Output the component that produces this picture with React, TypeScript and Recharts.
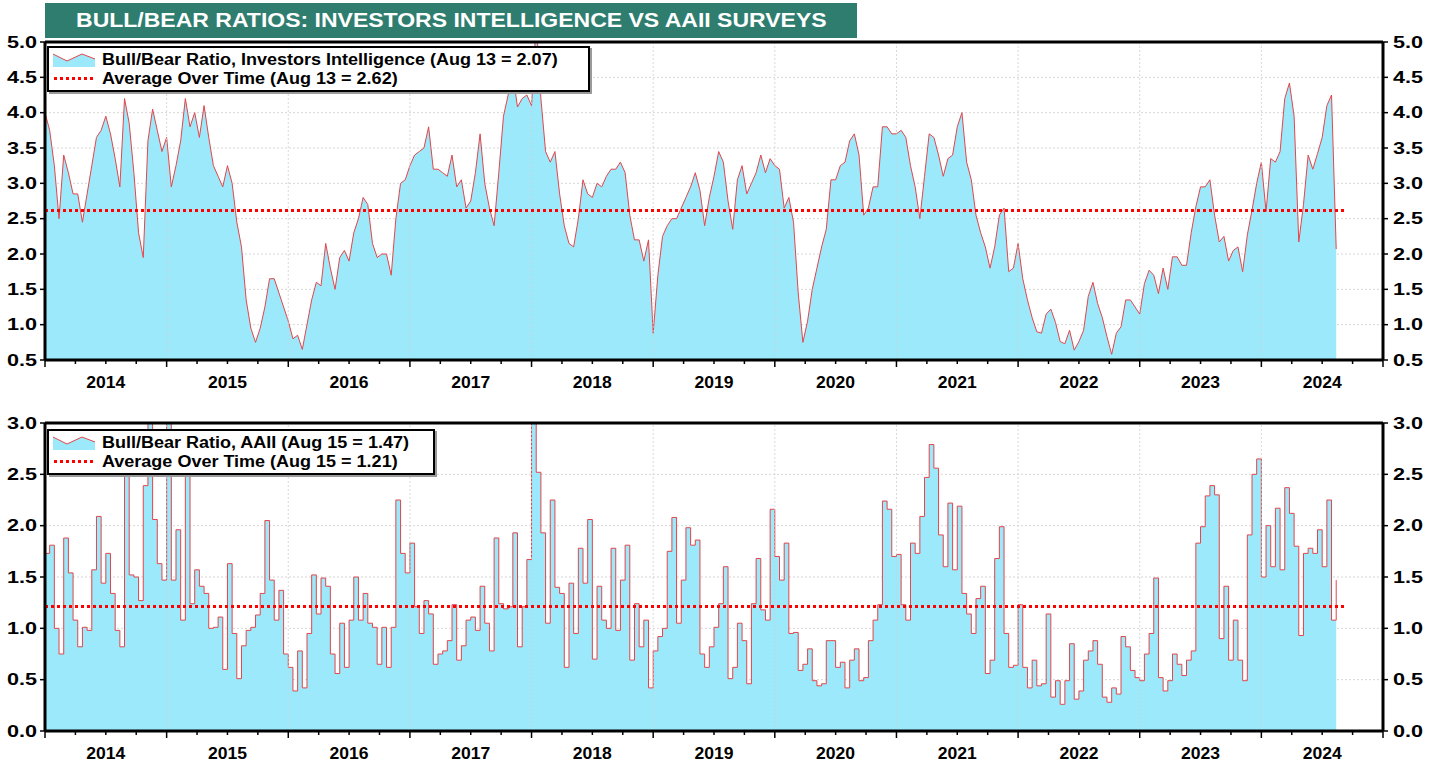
import React from 'react';
import { AreaChart, Area, XAxis, YAxis, CartesianGrid, ReferenceLine, Legend } from 'recharts';

// Investors Intelligence bull/bear ratio, two readings a month
const ii2014 = [4.0, 3.75, 3.25, 2.5, 3.4, 3.15, 2.85, 2.85, 2.45, 2.85, 3.25, 3.65, 3.75, 3.95, 3.7, 3.35, 2.95, 4.2, 3.85, 3.15, 2.3, 1.95, 3.6, 4.05, 3.75, 3.45];
const ii2015 = [3.65, 2.95, 3.25, 3.6, 4.2, 3.8, 4.0, 3.65, 4.1, 3.65, 3.25, 3.1, 2.95, 3.25, 3.0, 2.45, 2.1, 1.35, 0.95, 0.75, 0.95, 1.25, 1.65, 1.65, 1.45, 1.25];
const ii2016 = [1.05, 0.8, 0.85, 0.65, 1.0, 1.35, 1.6, 1.55, 2.15, 1.8, 1.5, 1.95, 2.05, 1.9, 2.3, 2.5, 2.8, 2.7, 2.15, 1.95, 2.0, 2.0, 1.7, 2.5, 3.0, 3.05];
const ii2017 = [3.25, 3.4, 3.45, 3.5, 3.8, 3.2, 3.2, 3.15, 3.1, 3.4, 2.95, 3.05, 2.65, 2.75, 3.15, 3.7, 3.0, 2.65, 2.4, 3.15, 3.95, 4.25, 4.55, 4.08, 4.2, 4.25];
const ii2018 = [4.1, 5.3, 4.2, 3.45, 3.3, 3.45, 2.85, 2.4, 2.15, 2.1, 2.5, 3.05, 2.85, 2.8, 3.0, 2.95, 3.1, 3.2, 3.2, 3.3, 3.15, 2.55, 2.2, 2.2, 1.9, 2.2];
const ii2019 = [0.88, 1.7, 2.25, 2.4, 2.5, 2.5, 2.65, 2.8, 2.95, 3.15, 2.9, 2.4, 2.8, 3.1, 3.45, 3.3, 2.75, 2.35, 3.05, 3.25, 2.85, 3.0, 3.15, 3.4, 3.15, 3.35];
const ii2020 = [3.25, 3.2, 2.65, 2.8, 2.45, 1.45, 0.75, 1.05, 1.5, 1.8, 2.1, 2.35, 3.05, 3.05, 3.25, 3.3, 3.6, 3.7, 3.4, 2.55, 2.65, 2.95, 2.95, 3.8, 3.8, 3.7];
const ii2021 = [3.7, 3.75, 3.65, 3.25, 2.95, 2.5, 3.1, 3.7, 3.65, 3.4, 3.1, 3.35, 3.4, 3.8, 4.0, 3.3, 3.05, 2.55, 2.3, 2.1, 1.8, 2.1, 2.55, 2.65, 1.75, 1.8];
const ii2022 = [2.15, 1.65, 1.35, 1.1, 0.9, 0.88, 1.15, 1.22, 1.03, 0.76, 0.73, 0.92, 0.64, 0.76, 0.92, 1.4, 1.6, 1.3, 1.1, 0.83, 0.58, 0.88, 0.97, 1.35, 1.35, 1.25];
const ii2023 = [1.15, 1.58, 1.77, 1.7, 1.44, 1.8, 1.5, 1.96, 1.96, 1.84, 1.84, 2.3, 2.67, 2.95, 2.95, 3.05, 2.55, 2.17, 2.25, 1.9, 2.05, 2.1, 1.75, 2.27, 2.62, 3.0];
const ii2024 = [3.3, 2.6, 3.35, 3.3, 3.45, 4.2, 4.42, 3.95, 2.17, 2.7, 3.4, 3.2, 3.42, 3.65, 4.1, 4.25, 2.07];

// AAII bull/bear ratio, two readings a month
const aa2014 = [1.73, 1.81, 1.0, 0.75, 1.88, 1.54, 1.08, 0.82, 1.01, 0.98, 1.57, 2.09, 1.44, 1.73, 1.34, 0.98, 0.82, 2.48, 1.52, 1.5, 1.27, 2.39, 3.1, 2.06, 1.63, 1.47];
const aa2015 = [3.1, 1.47, 1.96, 1.08, 2.9, 1.24, 1.57, 1.41, 1.34, 1.0, 1.01, 1.11, 0.6, 1.63, 0.95, 0.51, 0.83, 0.98, 1.01, 1.13, 1.34, 2.05, 1.47, 1.08, 1.37, 0.75];
const aa2016 = [0.62, 0.39, 0.78, 0.42, 0.95, 1.52, 1.14, 1.49, 1.41, 0.75, 0.56, 1.05, 0.62, 1.08, 1.5, 1.08, 1.34, 1.05, 1.01, 0.65, 1.01, 0.62, 1.01, 2.25, 1.73, 1.54];
const aa2017 = [1.83, 1.21, 0.95, 1.27, 1.14, 0.65, 0.75, 0.78, 0.88, 1.23, 0.69, 0.83, 1.08, 1.11, 0.98, 1.41, 1.05, 0.78, 1.88, 1.24, 1.19, 1.21, 1.93, 0.82, 1.21, 1.67];
const aa2018 = [3.1, 2.52, 1.93, 1.05, 2.25, 1.4, 1.34, 0.62, 1.44, 0.95, 1.78, 1.44, 2.06, 0.7, 1.41, 1.08, 1.0, 1.78, 0.98, 1.47, 1.81, 0.69, 1.24, 0.82, 1.08, 0.42];
const aa2019 = [0.78, 0.92, 1.0, 1.75, 2.08, 1.05, 1.47, 1.98, 1.81, 1.86, 0.75, 0.62, 0.82, 1.01, 1.24, 1.6, 0.51, 0.62, 1.05, 0.88, 0.46, 1.24, 1.68, 1.18, 1.08, 2.16];
const aa2020 = [1.7, 1.47, 1.83, 0.95, 0.96, 0.59, 0.65, 0.8, 0.49, 0.44, 0.46, 0.88, 0.88, 0.62, 0.67, 0.42, 0.69, 0.8, 0.49, 0.52, 0.88, 1.08, 1.23, 2.24, 2.16, 1.7];
const aa2021 = [1.72, 1.23, 1.08, 1.83, 1.73, 2.09, 2.47, 2.79, 2.56, 1.91, 1.6, 2.22, 1.57, 2.19, 1.34, 1.14, 0.95, 1.29, 1.41, 0.56, 0.69, 1.68, 1.99, 0.95, 0.62, 0.64];
const aa2022 = [1.23, 0.62, 0.42, 0.69, 0.44, 0.46, 1.14, 0.33, 0.49, 0.26, 0.49, 0.85, 0.31, 0.39, 0.69, 0.78, 0.88, 0.65, 0.33, 0.28, 0.42, 0.36, 0.92, 0.82, 0.59, 0.52];
const aa2023 = [0.49, 0.75, 0.95, 1.49, 0.52, 0.39, 0.49, 0.75, 0.65, 0.54, 0.69, 0.78, 1.83, 1.99, 2.29, 2.39, 2.3, 0.9, 1.41, 0.69, 1.08, 0.69, 0.49, 1.91, 2.5, 2.65];
const aa2024 = [1.5, 2.0, 1.6, 2.17, 1.57, 2.37, 2.12, 1.8, 0.93, 1.73, 1.78, 1.73, 1.96, 1.6, 2.25, 1.08, 1.47];

const avgII = 2.62;
const avgAAII = 1.21;
const avgEnd = 2024.7;

const yearLabels = ['2014', '2015', '2016', '2017', '2018', '2019', '2020', '2021', '2022', '2023', '2024'];
const iiTicks = [0.5, 1.0, 1.5, 2.0, 2.5, 3.0, 3.5, 4.0, 4.5, 5.0];
const aaTicks = [0.0, 0.5, 1.0, 1.5, 2.0, 2.5, 3.0];

const FONT = 'Arial, "Liberation Sans", Helvetica, sans-serif';
const FILL = '#9be9fb';
const LINE = '#e2464b';
const PER_YEAR = 26;
const START = 2014;
const END = 2025;

const toRows = (years: number[][]) =>
  years.flatMap((vals, k) => vals.map((v, i) => ({ t: START + k + i / PER_YEAR, v })));

const iiRows = toRows([ii2014, ii2015, ii2016, ii2017, ii2018, ii2019, ii2020, ii2021, ii2022, ii2023, ii2024]);
const aaRows = toRows([aa2014, aa2015, aa2016, aa2017, aa2018, aa2019, aa2020, aa2021, aa2022, aa2023, aa2024]);

const quarterTicks: number[] = [];
for (let q = START * 4; q <= END * 4; q++) quarterTicks.push(q / 4);
const yearLines = yearLabels.slice(1).map((y) => Number(y));

// the source picture has wide, stretched lettering
const YearTick = (props: any) => {
  const { x, y, payload } = props;
  const v: number = payload.value;
  const frac = v - Math.floor(v);
  const major = frac < 0.001;
  const idx = Math.floor(v) - START;
  return (
    <g>
      <line x1={x} x2={x} y1={y} y2={y + (major ? 7 : 4)} stroke="#000" strokeWidth={1.5} />
      {Math.abs(frac - 0.5) < 0.001 && yearLabels[idx] ? (
        <text
          x={x}
          y={y + 28}
          textAnchor="middle"
          textLength={39}
          lengthAdjust="spacingAndGlyphs"
          fontFamily={FONT}
          fontWeight="bold"
          fontSize={16}
          fill="#000"
        >
          {yearLabels[idx]}
        </text>
      ) : null}
    </g>
  );
};

const ValueTick = (props: any) => {
  const { x, y, payload, textAnchor } = props;
  return (
    <text
      x={x}
      y={y}
      dy={5.5}
      textAnchor={textAnchor}
      textLength={30}
      lengthAdjust="spacingAndGlyphs"
      fontFamily={FONT}
      fontWeight="bold"
      fontSize={16}
      fill="#000"
    >
      {Number(payload.value).toFixed(1)}
    </text>
  );
};

const stretch = (s: number): React.CSSProperties => ({
  display: 'inline-block',
  transform: `scaleX(${s})`,
  transformOrigin: 'left center',
});

const LegendBox = ({ series, avg, width }: { series: string; avg: string; width: number }) => (
  <div
    style={{
      boxSizing: 'border-box',
      width,
      background: '#fff',
      border: '2px solid #000',
      boxShadow: '2px 2px 0 #9a9a9a',
      padding: '2px 0 2px 4px',
      fontFamily: FONT,
      fontWeight: 'bold',
      fontSize: 16,
      lineHeight: '19px',
      whiteSpace: 'nowrap',
      color: '#000',
    }}
  >
    <div style={{ display: 'flex', alignItems: 'center', height: 19 }}>
      <svg width={42} height={15}>
        <path d="M0,2 L14,9 L29,2 L42,7 L42,15 L0,15 Z" fill={FILL} />
        <polyline points="0,2 14,9 29,2 42,7" fill="none" stroke={LINE} strokeWidth={1} />
      </svg>
      <span style={{ marginLeft: 7, ...stretch(1.125) }}>{series}</span>
    </div>
    <div style={{ display: 'flex', alignItems: 'center', height: 19 }}>
      <svg width={42} height={15}>
        <line x1={1} x2={42} y1={7.5} y2={7.5} stroke="#ff0000" strokeWidth={3} strokeDasharray="3 3" />
      </svg>
      <span style={{ marginLeft: 7, ...stretch(1.125) }}>{avg}</span>
    </div>
  </div>
);

type PanelProps = {
  rows: { t: number; v: number }[];
  ticks: number[];
  avg: number;
  stepped: boolean;
  height: number;
  marginTop: number;
  marginBottom: number;
  series: string;
  avgLabel: string;
  legendTop: number;
  legendWidth: number;
};

const Panel = (p: PanelProps) => {
  const { rows, ticks, avg, stepped, height, marginTop, marginBottom } = p;
  const lo = ticks[0];
  const hi = ticks[ticks.length - 1];
  return (
    <AreaChart width={1439} height={height} data={rows} margin={{ top: marginTop, right: 6, bottom: marginBottom, left: 5 }}>
      <CartesianGrid yAxisId="left" vertical={false} stroke="#d6d6d6" strokeDasharray="2 2" />
      <XAxis
        dataKey="t"
        type="number"
        domain={[START, END]}
        ticks={quarterTicks}
        interval={0}
        tickLine={false}
        tickSize={0}
        tickMargin={0}
        height={30}
        axisLine={{ stroke: '#000', strokeWidth: 3 }}
        tick={<YearTick />}
      />
      <YAxis
        yAxisId="left"
        domain={[lo, hi]}
        ticks={ticks}
        allowDataOverflow
        width={40}
        tickSize={5}
        tickMargin={3}
        tickLine={{ stroke: '#000', strokeWidth: 1.5 }}
        axisLine={{ stroke: '#000', strokeWidth: 3 }}
        tick={<ValueTick />}
      />
      <YAxis
        yAxisId="right"
        orientation="right"
        domain={[lo, hi]}
        ticks={ticks}
        allowDataOverflow
        width={50}
        tickSize={5}
        tickMargin={5}
        tickLine={{ stroke: '#000', strokeWidth: 1.5 }}
        axisLine={{ stroke: '#000', strokeWidth: 3 }}
        tick={<ValueTick />}
      />
      <Area
        yAxisId="left"
        dataKey="v"
        type={stepped ? 'stepAfter' : 'linear'}
        fill={FILL}
        fillOpacity={1}
        stroke={LINE}
        strokeWidth={1}
        isAnimationActive={false}
        dot={false}
        activeDot={false}
      />
      {yearLines.map((yr) => (
        <ReferenceLine key={yr} yAxisId="left" x={yr} stroke="#d0d0d0" strokeDasharray="2 2" strokeOpacity={0.8} />
      ))}
      <ReferenceLine
        yAxisId="left"
        segment={[{ x: START, y: avg }, { x: avgEnd, y: avg }]}
        stroke="#ff0000"
        strokeWidth={3}
        strokeDasharray="3 3"
        shapeRendering="crispEdges"
      />
      <ReferenceLine yAxisId="left" y={hi} stroke="#000" strokeWidth={3} />
      <Legend
        layout="vertical"
        align="center"
        verticalAlign="middle"
        wrapperStyle={{ top: p.legendTop, left: 47, width: 'auto', height: 'auto' }}
        content={() => <LegendBox series={p.series} avg={p.avgLabel} width={p.legendWidth} />}
      />
    </AreaChart>
  );
};

export default function App() {
  return (
    <div style={{ position: 'absolute', left: 0, top: 0, width: 1439, height: 762, background: '#fff' }}>
      <div
        style={{
          position: 'absolute',
          left: 45,
          top: 3,
          width: 812,
          height: 35,
          background: '#2e7d6f',
          color: '#fff',
          fontFamily: FONT,
          fontWeight: 'bold',
          fontSize: 20,
          lineHeight: '35px',
          textAlign: 'center',
          zIndex: 2,
          whiteSpace: 'nowrap',
        }}
      >
        <span style={{ display: 'inline-block', transform: 'scaleX(1.15)' }}>
          BULL/BEAR RATIOS: INVESTORS INTELLIGENCE VS AAII SURVEYS
        </span>
      </div>
      <div style={{ position: 'absolute', left: 0, top: 0 }}>
        <Panel
          rows={iiRows}
          ticks={iiTicks}
          avg={avgII}
          stepped={false}
          height={395}
          marginTop={42}
          marginBottom={5}
          series="Bull/Bear Ratio, Investors Intelligence (Aug 13 = 2.07)"
          avgLabel="Average Over Time (Aug 13 = 2.62)"
          legendTop={46}
          legendWidth={543}
        />
      </div>
      <div style={{ position: 'absolute', left: 0, top: 395 }}>
        <Panel
          rows={aaRows}
          ticks={aaTicks}
          avg={avgAAII}
          stepped
          height={367}
          marginTop={28}
          marginBottom={1}
          series="Bull/Bear Ratio, AAII (Aug 15 = 1.47)"
          avgLabel="Average Over Time (Aug 15 = 1.21)"
          legendTop={34}
          legendWidth={388}
        />
      </div>
    </div>
  );
}
